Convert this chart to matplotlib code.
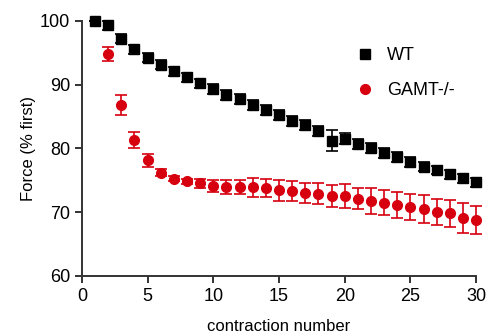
import numpy as np
import matplotlib.pyplot as plt

plt.rcParams['font.family'] = ['Liberation Sans', 'DejaVu Sans']

contraction = np.arange(1, 31)

wt_mean = [100.0, 99.3, 97.2, 95.5, 94.2, 93.1, 92.1, 91.1, 90.2, 89.3,
           88.4, 87.7, 86.8, 86.0, 85.2, 84.3, 83.7, 82.7, 81.2, 81.5,
           80.7, 80.0, 79.3, 78.6, 77.9, 77.1, 76.6, 75.9, 75.3, 74.7]
wt_err = [0.0, 0.7, 0.7, 0.7, 0.7, 0.7, 0.7, 0.7, 0.7, 0.8,
          0.8, 0.8, 0.8, 0.8, 0.8, 0.8, 0.8, 0.8, 1.6, 0.9,
          0.8, 0.8, 0.8, 0.8, 0.8, 0.7, 0.7, 0.7, 0.7, 0.7]

gamt_mean = [100.0, 94.8, 86.8, 81.3, 78.1, 76.2, 75.2, 74.8, 74.5, 74.1,
             74.0, 74.0, 73.9, 73.8, 73.4, 73.3, 73.0, 72.9, 72.5, 72.5,
             72.1, 71.7, 71.5, 71.1, 70.8, 70.5, 70.0, 69.8, 69.1, 68.8]
gamt_err = [0.0, 1.1, 1.6, 1.3, 1.0, 0.6, 0.4, 0.4, 0.7, 1.0,
            1.1, 1.1, 1.5, 1.4, 1.6, 1.6, 1.6, 1.6, 1.7, 1.9,
            1.6, 2.0, 2.0, 2.0, 2.0, 2.2, 2.0, 2.1, 2.3, 2.2]

red = '#d7000f'

fig = plt.figure(figsize=(4.96, 3.34), dpi=100)
ax = fig.add_axes([0.165, 0.174, 0.795, 0.764])

ax.errorbar(contraction, gamt_mean, yerr=gamt_err, fmt='o', color=red,
            ecolor=red, elinewidth=1.2, capsize=4, capthick=1.2,
            markersize=7, label='GAMT-/-', clip_on=False, zorder=2)
ax.errorbar(contraction, wt_mean, yerr=wt_err, fmt='s', color='black',
            ecolor='black', elinewidth=1.2, capsize=4, capthick=1.2,
            markersize=7, label='WT', clip_on=False, zorder=3)

ax.set_xlim(0, 30)
ax.set_ylim(60, 100)
ax.set_xticks([0, 5, 10, 15, 20, 25, 30])
ax.set_yticks([60, 70, 80, 90, 100])

for s in ['top', 'right']:
    ax.spines[s].set_visible(False)
for s in ['left', 'bottom']:
    ax.spines[s].set_linewidth(1.4)
    ax.spines[s].set_color('#333333')
ax.tick_params(axis='both', labelsize=13, width=1.4, length=5, color='#333333')

ax.set_xlabel('contraction number', fontsize=12, labelpad=10)
ax.set_ylabel('Force (% first)', fontsize=12, labelpad=3)

handles, labels = ax.get_legend_handles_labels()
handles = [h[0] for h in handles]
ax.legend(handles[::-1], labels[::-1], loc='upper left',
          bbox_to_anchor=(0.655, 0.96), frameon=False, fontsize=13,
          handletextpad=0.7, labelspacing=1.0, handlelength=1.0)

plt.savefig('out.png', dpi=100)
